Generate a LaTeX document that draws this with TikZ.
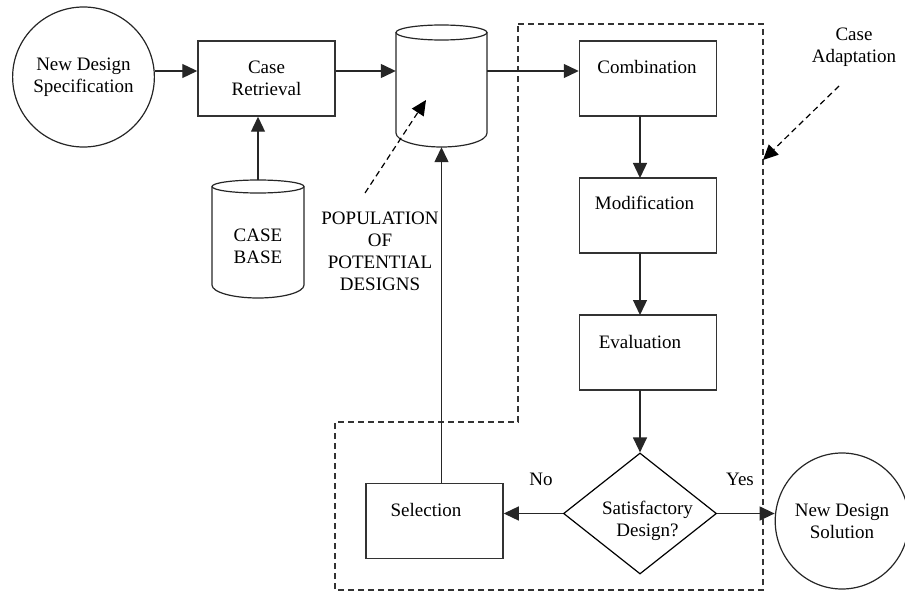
\documentclass[tikz,border=0pt]{standalone}
\usepackage{fontspec}
\setmainfont{Liberation Serif}
\usetikzlibrary{arrows.meta,shapes.geometric,calc}
\begin{document}
\begin{tikzpicture}[x=1pt,y=-1pt,
  every node/.style={font=\fontsize{19}{22}\selectfont, text=black},
  ln/.style={draw=black!85, line width=1.2pt},
  box/.style={draw=black!80, line width=1.5pt, minimum width=137pt, minimum height=75pt, inner sep=0pt},
  circ/.style={draw=black!85, line width=1.2pt, ellipse, inner sep=0pt, align=center},
  txt/.style={align=center, inner sep=0pt},
  arr/.style={draw=black!85, line width=1.3pt, -{Triangle[length=15pt,width=14pt]}},
  darr/.style={draw=black, line width=1.2pt, dash pattern=on 6pt off 4pt, -{Triangle[length=15pt,width=14pt]}},
  region/.style={draw=black!80, line width=1.2pt, dash pattern=on 6pt off 4pt},
  cylbox/.style={inner sep=0pt, draw=none}
]
\useasboundingbox (0,0) rectangle (905,591);

% dashed region (Case Adaptation)
\draw[region] (518,24) -- (763,24) -- (763,590) -- (335,590) -- (335,422) -- (518,422) -- cycle;

\coordinate (row) at (0,71);

% New Design Specification
\node[circ, minimum width=137pt, minimum height=140pt] (nds) at (83.5,77) {New Design\\Specification};

% Case Retrieval
\node[box, txt, minimum width=137pt, minimum height=75pt] (cr) at (266.5,78.5) {Case\\Retrieval};

% Population cylinder
\node[cylbox, minimum width=91pt, minimum height=122pt] (pop) at (441.5,86) {};
\draw[ln] (441.5,32.5) ellipse [x radius=45.5pt, y radius=7.5pt];
\draw[ln] (396,32.5) -- (396,133) arc[start angle=180, end angle=360, x radius=45.5pt, y radius=14pt] -- (487,32.5);

% Case base cylinder
\node[cylbox, minimum width=92pt, minimum height=118pt] (cb) at (258,239) {};
\draw[ln] (258,186.5) ellipse [x radius=46pt, y radius=6.5pt];
\draw[ln] (212,186.5) -- (212,285) arc[start angle=180, end angle=360, x radius=46pt, y radius=13pt] -- (304,186.5);
\node[txt] (cbt) at (258,246) {CASE\\BASE};

% Population label
\node[txt] (popt) at (380,251.5) {POPULATION\\OF\\POTENTIAL\\DESIGNS};
\coordinate (popa) at (365,193);
\coordinate (popb) at (426,100);

% Adaptation boxes
\node[box] (comb) at (648,78.5) {};
\node[txt] (combt) at (647,67) {Combination};
\node[box] (mod) at (648,215.5) {};
\node[txt] (modt) at (644.5,203) {Modification};
\node[box] (eval) at (648,352.5) {};
\node[txt] (evalt) at (640,342) {Evaluation};

% Decision
\node[draw=black, line width=1.2pt, diamond, minimum width=153pt, minimum height=121pt, inner sep=0pt] (dia) at (640,513.5) {};
\node[txt] (diat) at (647.5,520.5) {Satisfactory\\Design?};

% Selection
\node[box] (sel) at (434.5,521) {};
\node[txt] (selt) at (426,510) {Selection};

% Solution
\node[circ, minimum width=128pt, minimum height=136pt] (sol) at (842,521) {New Design\\Solution};

% Case Adaptation label
\node[txt] (cat) at (854,47.5) {Case\\Adaptation};
\coordinate (caa) at (839,86);
\coordinate (cab) at (763,160);

% labels
\node[txt] (no) at (541,479) {No};
\node[txt] (yes) at (740,479) {Yes};

% connectors
\draw[arr] (nds.east |- row) -- (cr.west |- row);
\draw[arr] (cr.east |- row) -- (pop.west |- row);
\draw[arr] (pop.east |- row) -- (comb.west |- row);
\draw[arr] (cb.north) -- (cb.north |- cr.south);
\draw[arr] (640,116) -- (640,178);
\draw[arr] (640,253) -- (640,315);
\draw[arr] (640,390) -- (dia.north);
\draw[arr] (dia.west) -- (sel.east |- dia.west);
\draw[arr] (dia.east) -- (sol.west |- dia.east);
\draw[arr] (pop.south |- sel.north) -- (pop.south);
\draw[darr] (popa) -- (popb);
\draw[darr] (caa) -- (cab);
\end{tikzpicture}
\end{document}
